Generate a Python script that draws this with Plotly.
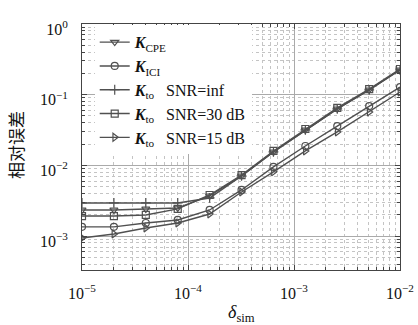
import numpy as np
import plotly.graph_objects as go

delta_sim = [1e-5, 2e-5, 4e-5, 8e-5, 1.6e-4, 3.2e-4, 6.4e-4, 1.28e-3, 2.56e-3, 5.12e-3, 1.0e-2]

err_cpe = [2.34e-3, 2.34e-3, 2.42e-3, 2.5e-3, 3.7e-3, 7.1e-3, 1.55e-2, 3.17e-2, 6.3e-2, 0.117, 0.224]
err_ici = [1.35e-3, 1.35e-3, 1.53e-3, 1.69e-3, 2.34e-3, 4.49e-3, 9.5e-3, 1.88e-2, 3.6e-2, 6.9e-2, 0.128]
err_inf = [2.94e-3, 2.94e-3, 2.94e-3, 2.94e-3, 3.46e-3, 7.1e-3, 1.55e-2, 3.17e-2, 6.3e-2, 0.117, 0.224]
err_30 = [1.92e-3, 1.92e-3, 1.99e-3, 2.42e-3, 3.81e-3, 7.3e-3, 1.6e-2, 3.27e-2, 6.5e-2, 0.12, 0.231]
err_15 = [9.4e-4, 1.07e-3, 1.30e-3, 1.53e-3, 2.05e-3, 4.2e-3, 8.1e-3, 1.6e-2, 2.97e-2, 5.7e-2, 0.109]

names = ["<b><i>K</i></b><sub>CPE</sub>",
         "<b><i>K</i></b><sub>ICI</sub>",
         "<b><i>K</i></b><sub>to</sub>&nbsp;&nbsp;&nbsp;SNR=inf",
         "<b><i>K</i></b><sub>to</sub>&nbsp;&nbsp;&nbsp;SNR=30 dB",
         "<b><i>K</i></b><sub>to</sub>&nbsp;&nbsp;&nbsp;SNR=15 dB"]
symbols = ["triangle-down-open", "circle-open", "cross-thin-open", "square-open", "triangle-right-open"]
series = [err_cpe, err_ici, err_inf, err_30, err_15]

xticks = [1e-5, 1e-4, 1e-3, 1e-2]
xticktext = ["10<sup>−5</sup>", "10<sup>−4</sup>", "10<sup>−3</sup>", "10<sup>−2</sup>"]
yticks = [1e-3, 1e-2, 1e-1, 1]
yticktext = ["10<sup>−3</sup>", "10<sup>−2</sup>", "10<sup>−1</sup>", "10<sup>0</sup>"]
x_minor = [m * 10.0 ** e for e in range(-5, -2) for m in range(2, 10)]
y_minor = [m * 10.0 ** e for e in range(-4, 0) for m in range(2, 10)]

col = "#505050"
fig = go.Figure()
for s, n, sym in zip(series, names, symbols):
    fig.add_trace(go.Scatter(
        x=delta_sim, y=s, name=n, mode="lines+markers",
        line=dict(color=col, width=1.4),
        marker=dict(symbol=sym, size=7, color=col, line=dict(color=col, width=1.2)),
    ))

font_serif = "Liberation Serif"
def axis_common(minor_vals):
    return dict(
        type="log", showline=True, linecolor="#444", linewidth=1, mirror="allticks",
        ticks="inside", ticklen=5, tickcolor="#444", automargin=False,
        showgrid=True, gridcolor="#aaaaaa", gridwidth=1,
        minor=dict(tickmode="array", tickvals=minor_vals, ticks="inside", ticklen=3,
                   tickcolor="#444", showgrid=True,
                   gridcolor="#c4c4c4", griddash="dot", gridwidth=1),
        tickfont=dict(family=font_serif, size=16, color="#111"),
        zeroline=False,
    )
fig.update_xaxes(range=[-5, -2], tickmode="array", tickvals=xticks, ticktext=xticktext,
                 ticklabelstandoff=9, **axis_common(x_minor))
fig.update_yaxes(range=[-3.48, 0], tickmode="array", tickvals=yticks, ticktext=yticktext,
                 ticklabelstandoff=10, ticklabelshift=5, **axis_common(y_minor))

fig.add_annotation(text="<i>δ</i><sub>sim</sub>", xref="paper", yref="paper",
                   x=0.5, y=-0.175, xanchor="center", yanchor="middle", showarrow=False,
                   font=dict(family=font_serif, size=18, color="#111"))
fig.add_annotation(text="相对误差", xref="paper", yref="paper",
                   x=-0.211, y=0.508, xanchor="center", yanchor="middle", showarrow=False,
                   textangle=-90, font=dict(family="Noto Sans CJK SC", size=17, color="#111"))

fig.update_layout(
    width=418, height=325,
    margin=dict(l=82, r=18, t=24, b=55, autoexpand=False),
    plot_bgcolor="white", paper_bgcolor="white",
    legend=dict(x=0.04, y=0.995, xanchor="left", yanchor="top",
                bgcolor="white", borderwidth=0,
                font=dict(family=font_serif, size=16, color="#111"),
                tracegroupgap=0, itemwidth=30),
    showlegend=True,
)
fig.write_html("out.html", config={"displayModeBar": False},
               post_script="document.body.style.margin='0';document.body.style.overflow='hidden';")
